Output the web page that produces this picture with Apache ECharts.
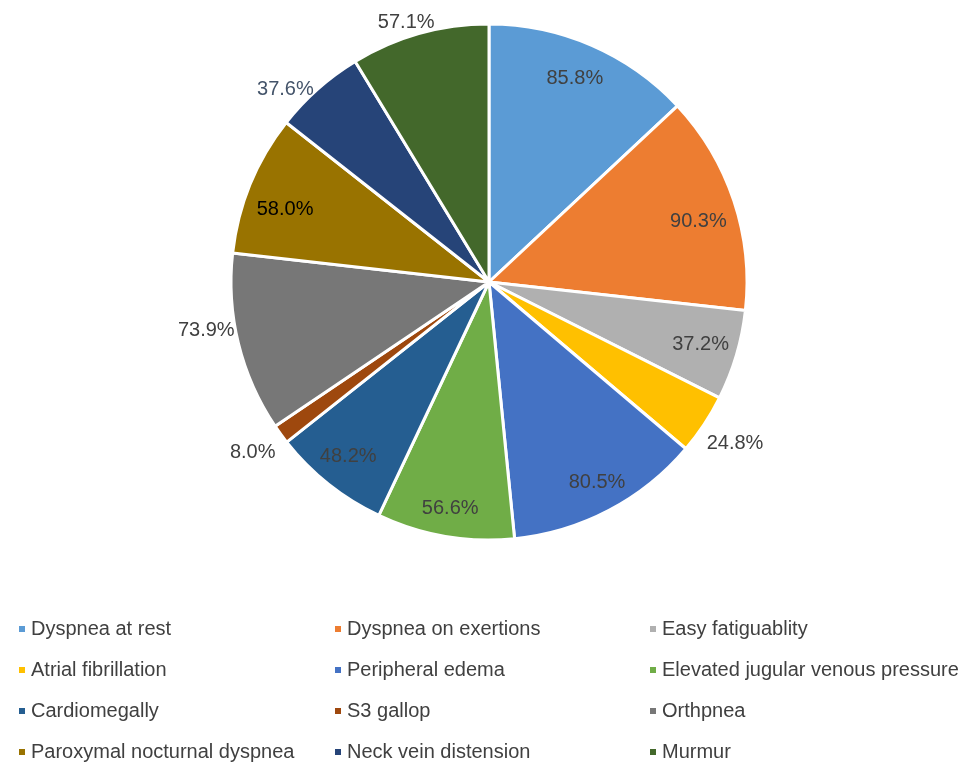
<!DOCTYPE html>
<html><head><meta charset="utf-8">
<script src="https://cdn.jsdelivr.net/npm/echarts@6/dist/echarts.min.js"></script>
<style>html,body{margin:0;padding:0;background:#fff}#c{width:974px;height:764px}</style>
</head><body><div id="c"></div>
<script>
const categories = ['Dyspnea at rest','Dyspnea on exertions','Easy fatiguablity','Atrial fibrillation','Peripheral edema','Elevated jugular venous pressure','Cardiomegally','S3 gallop','Orthpnea','Paroxymal nocturnal dyspnea','Neck vein distension','Murmur'];
const values = [85.8, 90.3, 37.2, 24.8, 80.5, 56.6, 48.2, 8.0, 73.9, 58.0, 37.6, 57.1];
const colors = ['#5B9BD5','#ED7D31','#B0B0B0','#FFC000','#4472C4','#70AD47','#255E91','#9E480E','#777777','#997300','#264478','#43682B'];
const outsideLabels = [false,false,false,true,false,false,false,true,true,false,true,true];
const labelColors = ['#404040','#404040','#404040','#404040','#404040','#404040','#404040','#404040','#404040','#000000','#44546A','#404040'];
// small label nudges (style) to mimic the original label placement
const labelNudges = [[-5,6],[-7,11],[-7,-2],[5,2],[2,-1],[0,2],[1,-4],[-3,0],[-2,-20],[7,14],[-12,24],[-5,19]];

const legendCols = [
  ['Dyspnea at rest','Atrial fibrillation','Cardiomegally','Paroxymal nocturnal dyspnea'],
  ['Dyspnea on exertions','Peripheral edema','S3 gallop','Neck vein distension'],
  ['Easy fatiguablity','Elevated jugular venous pressure','Orthpnea','Murmur']
];
const legendLefts = [17, 333, 648];

const FONT = 'Liberation Sans';
const center = [489, 282];

const mainData = categories.map((n,i)=>({name:n, value:values[i], itemStyle:{color:colors[i]}}));
function labelData(outside){
  return categories.map((n,i)=>({
    name:n, value:values[i],
    label:{show: outsideLabels[i]===outside, color: labelColors[i], offset: labelNudges[i]}
  }));
}
const chart = echarts.init(document.getElementById('c'), null, {renderer:'canvas'});
chart.setOption({
  animation:false,
  legend: legendCols.map((col,k)=>({
    data: col, orient:'vertical', left: legendLefts[k], top: 619, padding:0,
    itemWidth: 8, itemHeight: 8, itemGap: 21, icon:'rect',
    selectedMode:false,
    textStyle:{fontFamily:FONT, fontSize:20, color:'#404040'}
  })),
  series:[
    {type:'pie', center:center, radius:[0,258], startAngle:90, clockwise:true,
     data: mainData, label:{show:false}, labelLine:{show:false},
     itemStyle:{borderColor:'#fff', borderWidth:3}, emphasis:{disabled:true}},
    {type:'pie', center:center, radius:[192,258], startAngle:90, silent:true,
     legendHoverLink:false, z:3,
     itemStyle:{color:'rgba(0,0,0,0)', borderWidth:0},
     label:{position:'inside', fontFamily:FONT, fontSize:20, formatter: p=>p.value.toFixed(1)+'%'},
     labelLine:{show:false}, emphasis:{disabled:true}, data: labelData(false)},
    {type:'pie', center:center, radius:[266,306], startAngle:90, silent:true,
     legendHoverLink:false, z:3,
     itemStyle:{color:'rgba(0,0,0,0)', borderWidth:0},
     label:{position:'inside', fontFamily:FONT, fontSize:20, formatter: p=>p.value.toFixed(1)+'%'},
     labelLine:{show:false}, emphasis:{disabled:true}, data: labelData(true)}
  ]
});
</script></body></html>
